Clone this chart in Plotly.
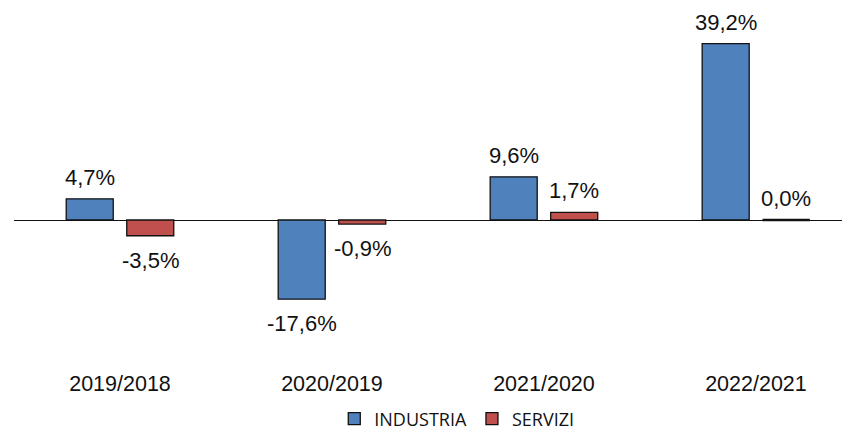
import plotly.graph_objects as go

# Year-over-year change by sector (%)
periods = ["2019/2018", "2020/2019", "2021/2020", "2022/2021"]
industria = [4.7, -17.6, 9.6, 39.2]
servizi = [-3.5, -0.9, 1.7, 0.0]

BARGAP = 0.429
GROUPGAP = 0.223
slot = (1 - BARGAP) / 2               # width of one bar slot in category units
half_bar = slot * (1 - GROUPGAP) / 2  # half the drawn bar width

series = [
    ("INDUSTRIA", industria, "#4F81BD", -slot / 2),
    ("SERVIZI", servizi, "#C0504D", slot / 2),
]

LABEL_FONT = dict(family="Liberation Sans, Arial, sans-serif", size=22, color="#111111")


def fmt(v):
    return f"{v:.1f}".replace(".", ",") + "%"


fig = go.Figure()
annotations = []
shapes = []
for name, vals, color, off in series:
    fig.add_trace(go.Bar(
        name=name,
        x=periods,
        y=vals,
        marker=dict(color=color, line=dict(color="#111111", width=1.3)),
    ))
    for i, (p, v) in enumerate(zip(periods, vals)):
        neg = v < 0
        annotations.append(dict(
            x=i + off, y=v, xref="x", yref="y",
            text=fmt(v), showarrow=False,
            yanchor="top" if neg else "bottom",
            yshift=-10 if neg else 7,
            font=LABEL_FONT,
        ))
        if v == 0:
            # a zero-height bar still shows its outline as a flat line
            shapes.append(dict(
                type="line", xref="x", yref="y",
                x0=i + off - half_bar, x1=i + off + half_bar, y0=v, y1=v,
                line=dict(color="#111111", width=2.6),
            ))

fig.update_layout(
    width=842, height=431,
    margin=dict(l=14, r=0, t=22, b=67),
    paper_bgcolor="white", plot_bgcolor="white",
    barmode="group", bargap=BARGAP, bargroupgap=GROUPGAP,
    font=dict(family="Liberation Sans, Arial, sans-serif", size=21.5, color="#111111"),
    showlegend=True,
    legend=dict(
        orientation="h", xref="container", yref="container",
        x=0.397, xanchor="left", y=0.028, yanchor="middle",
        font=dict(family="Open Sans, sans-serif", size=18, color="#111111"),
        itemwidth=30, traceorder="normal",
    ),
    annotations=annotations,
    shapes=shapes,
)
fig.update_xaxes(
    type="category", range=[-0.5, 3.406],
    showline=False, showgrid=False, ticks="",
    tickfont=dict(size=21.5), ticklabelstandoff=4,
)
fig.update_yaxes(
    range=[-32, 44],
    showgrid=False, showticklabels=False, ticks="",
    zeroline=True, zerolinecolor="#111111", zerolinewidth=1.3,
)

fig.write_html("out.html")
